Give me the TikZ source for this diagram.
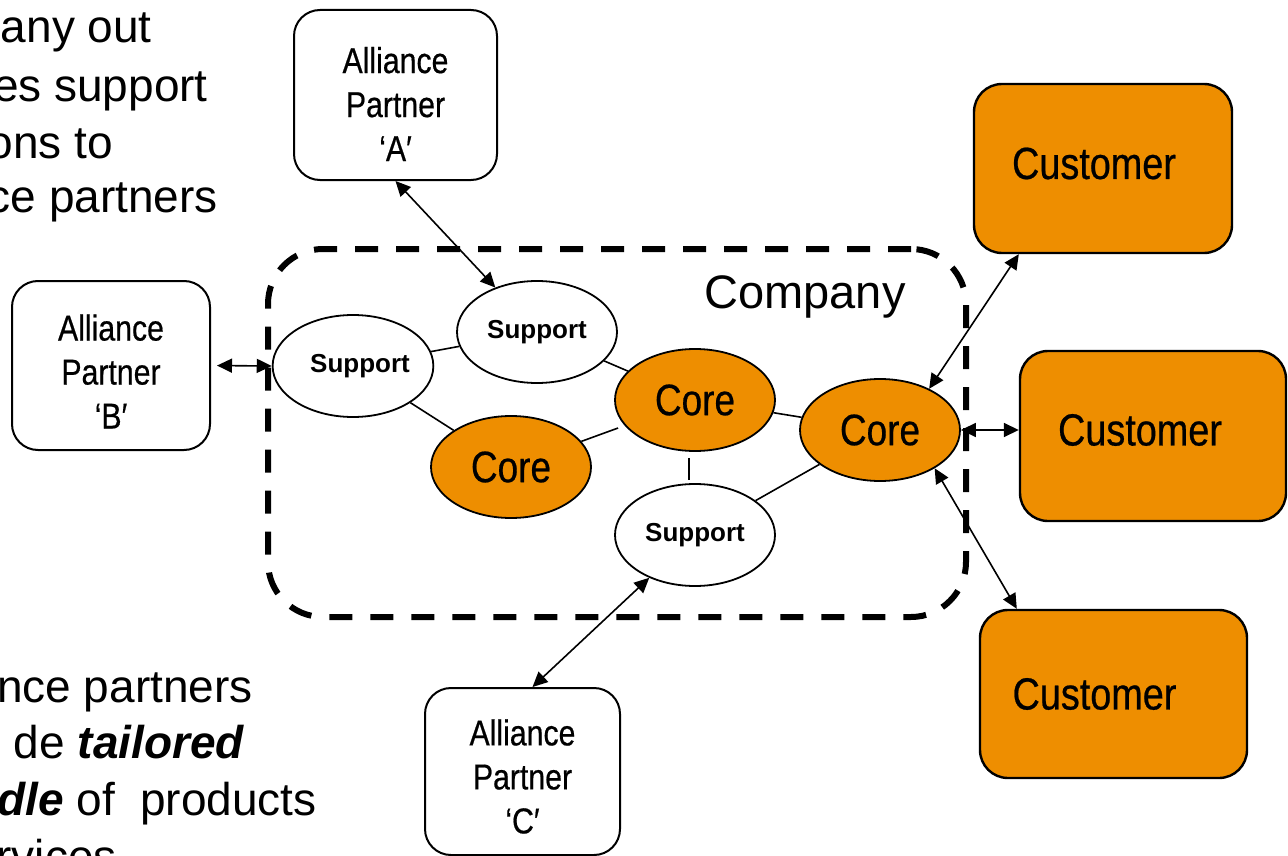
\documentclass[tikz,border=0pt]{standalone}
\usepackage{fontspec}
\setmainfont{Liberation Sans}
\newfontfamily\narrowfont[FakeStretch=0.84,FakeBold=0.5]{Liberation Sans}
\usetikzlibrary{shapes.geometric,arrows.meta}
\definecolor{coreorange}{RGB}{238,142,0}
\newcommand{\padtop}[2]{\raisebox{0pt}[\dimexpr\height+#1\relax]{#2}}
\newcommand{\padbot}[2]{\raisebox{0pt}[\height][\dimexpr\depth+#1\relax]{#2}}
\begin{document}
\begin{tikzpicture}[x=1pt,y=-1pt,
 partner/.style={draw,line width=2pt,rounded corners=26pt,align=center,inner sep=0pt,font=\narrowfont\fontsize{36}{44}\selectfont},
 customer/.style={draw,line width=2.4pt,fill=coreorange,rounded corners=28pt,inner sep=0pt,font=\narrowfont\fontsize{45}{54}\selectfont},
 support/.style={ellipse,draw,line width=1.8pt,fill=white,minimum width=160pt,minimum height=102pt,inner sep=0pt,font=\bfseries\fontsize{26}{30}\selectfont},
 core/.style={support,fill=coreorange,font=\narrowfont\fontsize{44}{50}\selectfont},
 link/.style={line width=1.6pt},
 biarrow/.style={line width=1.6pt,{Triangle[length=15pt,width=14pt]}-{Triangle[length=15pt,width=14pt]}},
 bigtext/.style={inner sep=0pt,anchor=base east,font=\fontsize{46}{57}\selectfont}]
\useasboundingbox (0,0) rectangle (1288,856);

% company boundary
\node[draw,dash pattern=on 23pt off 18pt,line width=6pt,rounded corners=55pt,minimum width=698pt,minimum height=368pt] (company) at (617,433) {};
\node[inner sep=0pt,font=\fontsize{47}{56}\selectfont] (companylabel) at (805,297) {Company};

% partners
\node[partner,minimum width=203pt,minimum height=170pt] (A) at (395.5,95) {\padtop{18pt}{Alliance}\\Partner\\‘A′};
\node[partner,minimum width=198pt,minimum height=169pt] (B) at (111,365.5) {\padtop{12pt}{Alliance}\\Partner\\‘B′};
\node[partner,minimum width=195pt,minimum height=167pt] (C) at (522.5,771.5) {\padtop{10pt}{Alliance}\\Partner\\‘C′};

% customers
\node[customer,minimum width=258pt,minimum height=169pt] (cust1) at (1103,168.5) {\padbot{10pt}{Customer}\hspace*{18pt}};
\node[customer,minimum width=266pt,minimum height=170pt] (cust2) at (1153,436) {\padbot{12pt}{Customer}\hspace*{26pt}};
\node[customer,minimum width=267pt,minimum height=168pt] (cust3) at (1113.5,694) {Customer\hspace*{38pt}};

% ellipses
\node[support,minimum width=158pt] (supL) at (353,366) {\hspace*{14pt}Support};
\node[support] (supT) at (537,332) {Support};
\node[core] (coreL) at (511,467) {Core};
\node[core] (coreM) at (695,400) {Core};
\node[core] (coreR) at (880,430) {Core};
\node[support] (supB) at (695,535) {Support};

% links
\draw[link] (supL) -- (supT);
\draw[link] (supL) -- (coreL);
\draw[link] (supT) -- (coreM);
\draw[link,shorten >=7pt] (coreL) -- (coreM);
\draw[link] (coreM) -- (coreR);
\draw[link,shorten <=6pt,shorten >=3pt] ([xshift=-6pt]coreM.south) -- ([xshift=-6pt]supB.north);
\draw[link] (supB) -- (coreR);

% arrows
\draw[biarrow] (A.south) -- (supT);
\draw[biarrow,shorten <=6pt] (B.east) -- (supL.west);
\draw[biarrow] ([xshift=10pt]C.north) -- (supB);
\draw[biarrow] ([xshift=46pt]cust1.south west) -- (coreR.40);
\draw[biarrow] (coreR.east) -- (coreR.east -| cust2.west);
\draw[biarrow] (coreR.-35) -- ([xshift=38pt]cust3.north west);

% side texts
\node[bigtext] (tl1) at (152,43) {any out};
\node[bigtext] (tl2) at (208,102) {es support};
\node[bigtext] (tl3) at (113,158) {ons to};
\node[bigtext] (tl4) at (218,212) {ce partners};
\node[bigtext] (bl1) at (253,702) {nce partners};
\node[bigtext] (bl2) at (245,758) {de \textbf{\textit{tailored}}};
\node[bigtext] (bl3) at (317,815) {\textbf{\textit{dle}} of\ \ products};
\node[bigtext] (bl4) at (117,872) {rvices};
\end{tikzpicture}
\end{document}
